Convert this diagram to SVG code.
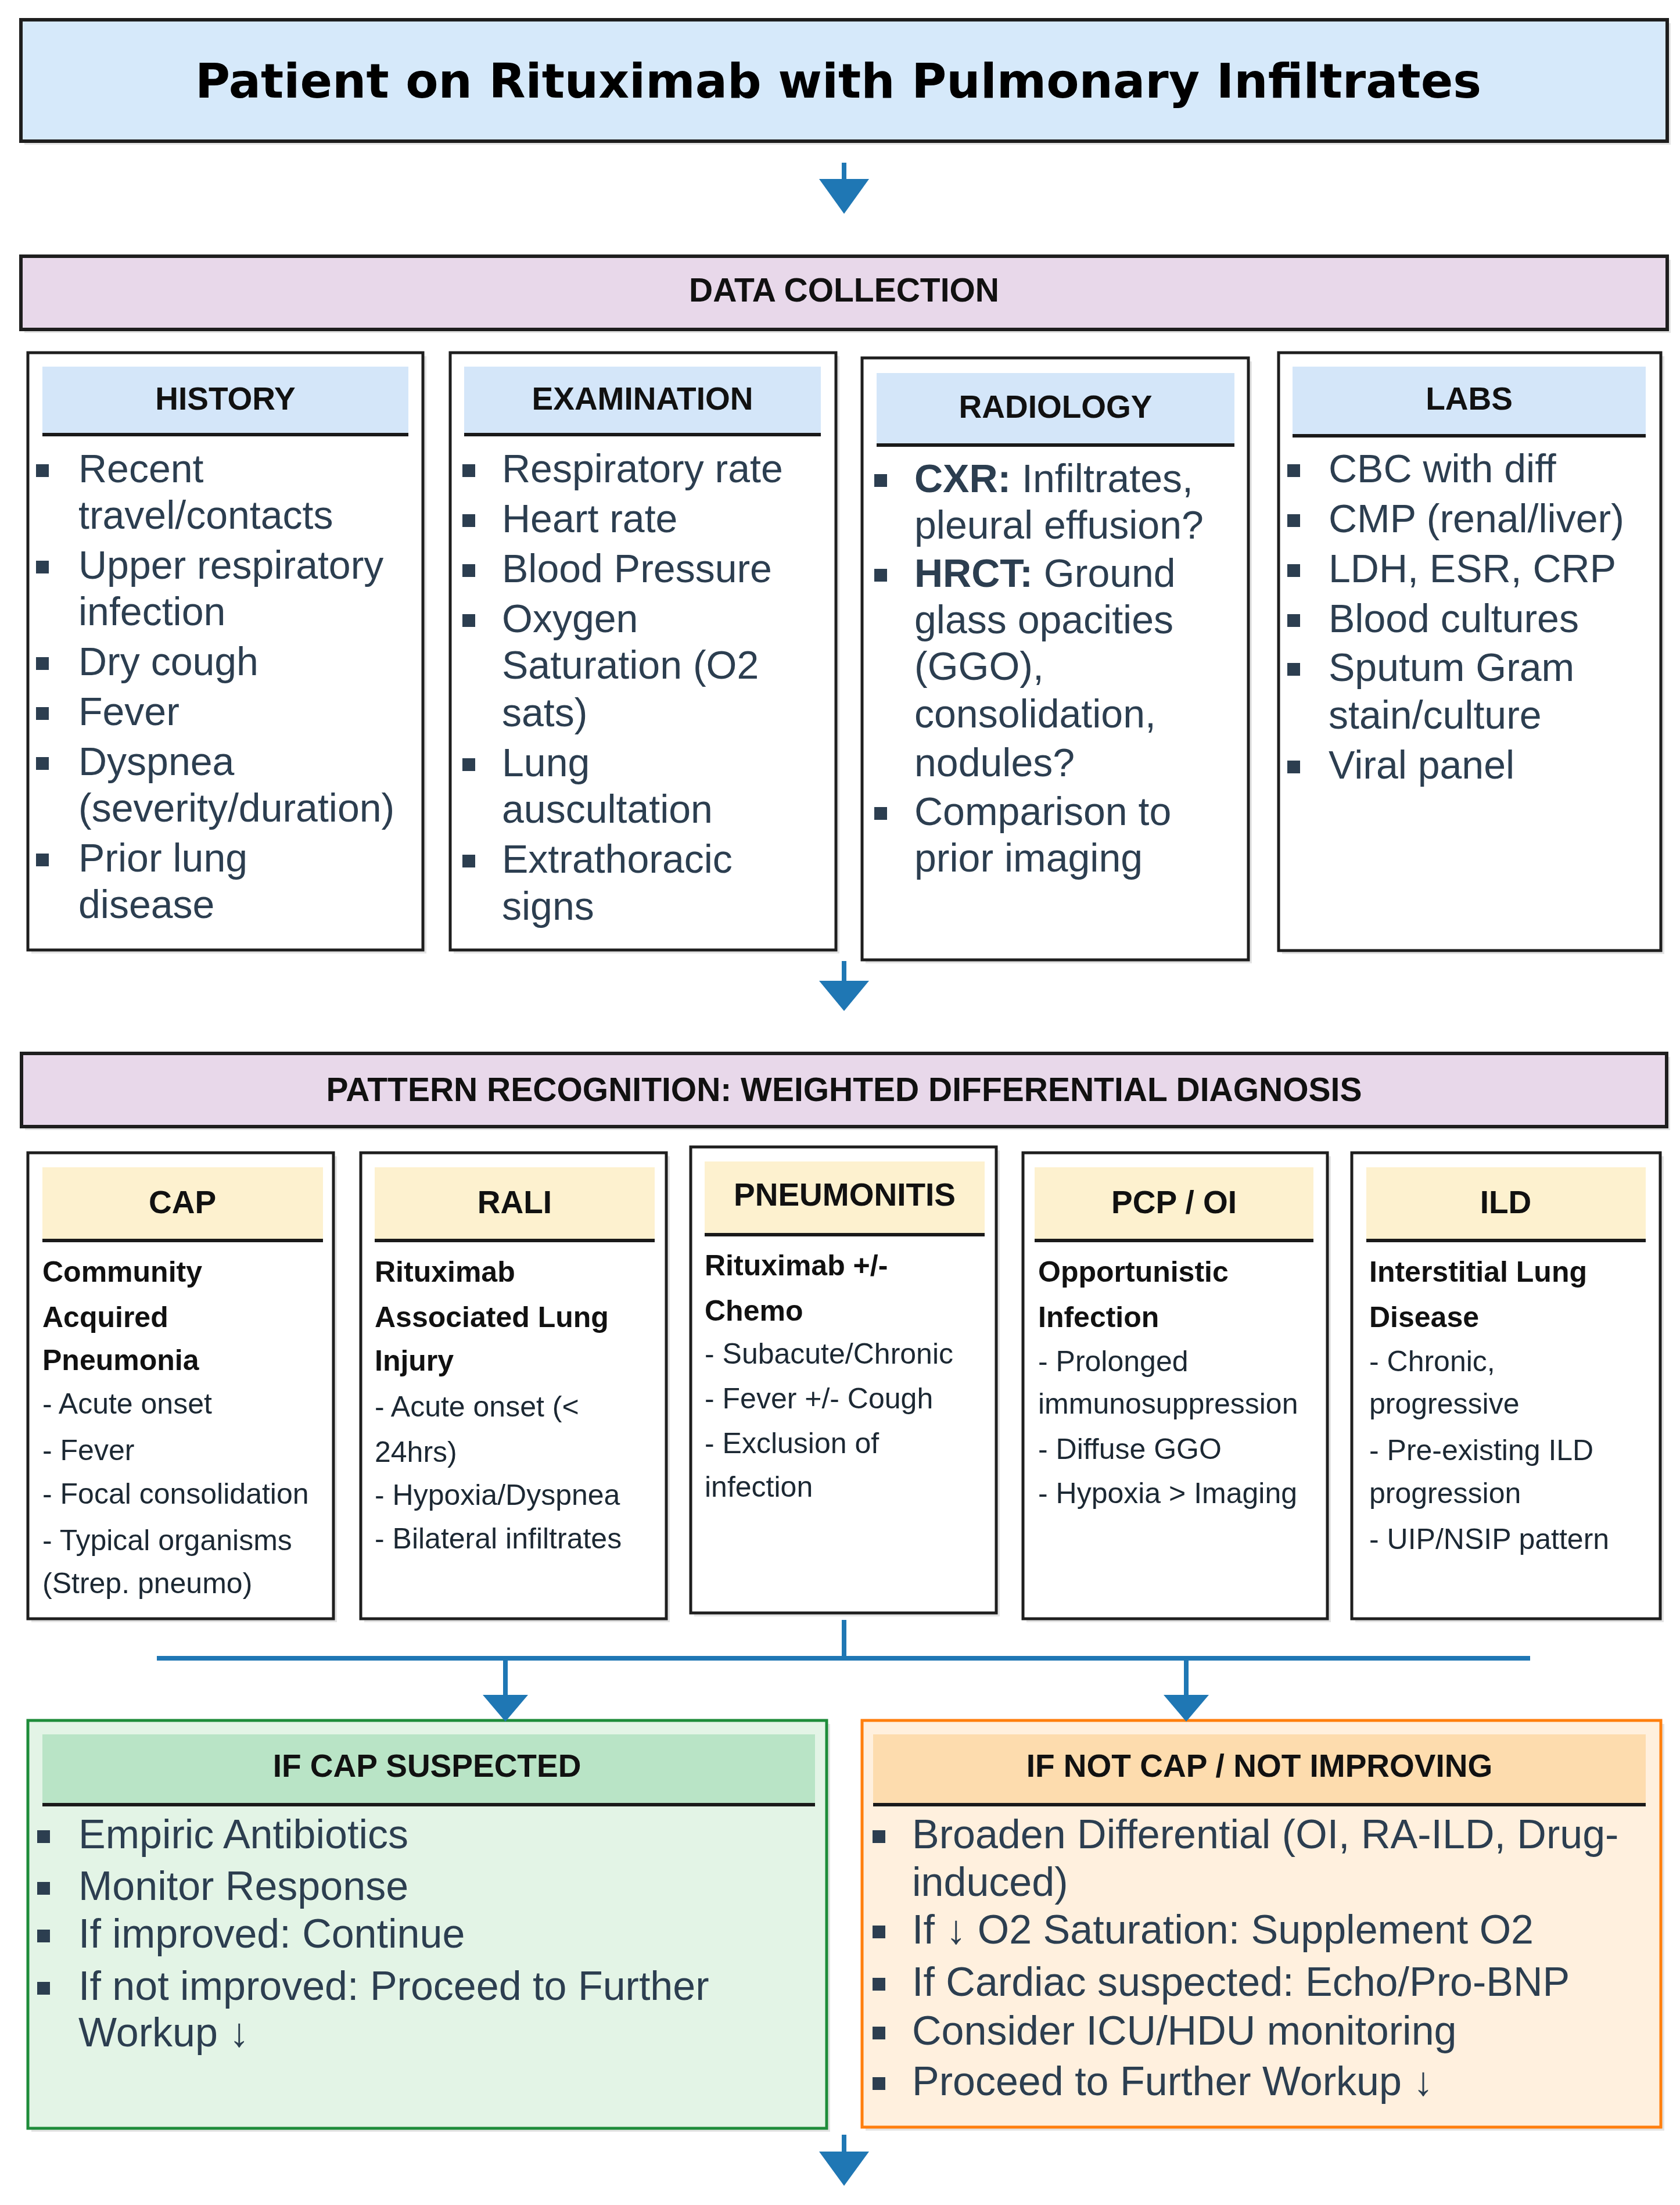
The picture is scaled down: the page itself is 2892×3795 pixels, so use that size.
<svg xmlns="http://www.w3.org/2000/svg" width="2892" height="3795" viewBox="0 0 2892 3795">
<style>
.bg{fill:#ffffff}
.shadow{fill:#e4e4e4}
.box{fill:#ffffff;stroke:#1e1e1e;stroke-width:5}
.title{fill:#d6e9fa;stroke:#1e1e1e;stroke-width:6}
.sec{fill:#e8d8ea;stroke:#1e1e1e;stroke-width:6}
.hb{fill:#d4e6f9}
.hy{fill:#fdf1cf}
.hl{stroke:#1a1a1a;stroke-width:6}
.gbox{fill:#e3f4e6;stroke:#1e8c3a;stroke-width:5}
.gh{fill:#b9e4c6}
.obox{fill:#fff0de;stroke:#ff7f0e;stroke-width:5}
.oh{fill:#fddcae}
.t-title{font-family:"DejaVu Sans",Verdana,sans-serif;font-weight:bold;font-size:82px;fill:#000;text-anchor:middle}
.t-sec{font-family:"Liberation Sans",Arial,sans-serif;font-weight:bold;font-size:57px;fill:#111;text-anchor:middle}
.t-h{font-family:"Liberation Sans",Arial,sans-serif;font-weight:bold;font-size:55px;fill:#111;text-anchor:middle}
.t-b{font-family:"Liberation Sans",Arial,sans-serif;font-size:68px;fill:#2c3e50}
.t-b2{font-family:"Liberation Sans",Arial,sans-serif;font-size:70px;fill:#2c3e50}
.t-p{font-family:"Liberation Sans",Arial,sans-serif;font-size:50px;fill:#1c2833}
.t-pb{font-family:"Liberation Sans",Arial,sans-serif;font-size:50px;font-weight:bold;fill:#111}
.bul{fill:#2c3e50}
.conn{stroke:#1f77b4;stroke-width:8;fill:none}
.ah{fill:#1f77b4}
</style>
<rect class="bg" x="0" y="0" width="2892" height="3795"/>

<g id="title">
<rect class="shadow" x="42" y="40" width="2834" height="209"/>
<rect class="title" x="36" y="34" width="2834" height="209"/>
<text class="t-title" x="1443" y="168">Patient on Rituximab with Pulmonary Infiltrates</text>
</g>

<g id="data-collection">
<rect class="shadow" x="42" y="447" width="2834" height="126"/>
<rect class="sec" x="36" y="441" width="2834" height="126"/>
<text class="t-sec" x="1453" y="519">DATA COLLECTION</text>
</g>

<g id="history">
<rect class="shadow" x="54" y="613" width="680" height="1028"/>
<rect class="box" x="48" y="607" width="680" height="1028"/>
<rect class="hb" x="73" y="631" width="630" height="117"/>
<line class="hl" x1="73" y1="748" x2="703" y2="748"/>
<text class="t-h" x="388" y="705">HISTORY</text>
<rect class="bul" x="62" y="799" width="22" height="22"/>
<text class="t-b" x="135" y="830">Recent</text>
<text class="t-b" x="135" y="910">travel/contacts</text>
<rect class="bul" x="62" y="965" width="22" height="22"/>
<text class="t-b" x="135" y="996">Upper respiratory</text>
<text class="t-b" x="135" y="1076">infection</text>
<rect class="bul" x="62" y="1131" width="22" height="22"/>
<text class="t-b" x="135" y="1162">Dry cough</text>
<rect class="bul" x="62" y="1217" width="22" height="22"/>
<text class="t-b" x="135" y="1248">Fever</text>
<rect class="bul" x="62" y="1303" width="22" height="22"/>
<text class="t-b" x="135" y="1334">Dyspnea</text>
<text class="t-b" x="135" y="1414">(severity/duration)</text>
<rect class="bul" x="62" y="1469" width="22" height="22"/>
<text class="t-b" x="135" y="1500">Prior lung</text>
<text class="t-b" x="135" y="1580">disease</text>
</g>

<g id="examination">
<rect class="shadow" x="781" y="613" width="664" height="1028"/>
<rect class="box" x="775" y="607" width="664" height="1028"/>
<rect class="hb" x="799" y="631" width="614" height="117"/>
<line class="hl" x1="799" y1="748" x2="1413" y2="748"/>
<text class="t-h" x="1106" y="705">EXAMINATION</text>
<rect class="bul" x="796" y="799" width="22" height="22"/>
<text class="t-b" x="864" y="830">Respiratory rate</text>
<rect class="bul" x="796" y="885" width="22" height="22"/>
<text class="t-b" x="864" y="916">Heart rate</text>
<rect class="bul" x="796" y="971" width="22" height="22"/>
<text class="t-b" x="864" y="1002">Blood Pressure</text>
<rect class="bul" x="796" y="1057" width="22" height="22"/>
<text class="t-b" x="864" y="1088">Oxygen</text>
<text class="t-b" x="864" y="1168">Saturation (O2</text>
<text class="t-b" x="864" y="1250">sats)</text>
<rect class="bul" x="796" y="1305" width="22" height="22"/>
<text class="t-b" x="864" y="1336">Lung</text>
<text class="t-b" x="864" y="1416">auscultation</text>
<rect class="bul" x="796" y="1471" width="22" height="22"/>
<text class="t-b" x="864" y="1502">Extrathoracic</text>
<text class="t-b" x="864" y="1583">signs</text>
</g>

<g id="radiology">
<rect class="shadow" x="1490" y="622" width="665" height="1036"/>
<rect class="box" x="1484" y="616" width="665" height="1036"/>
<rect class="hb" x="1509" y="642" width="616" height="124"/>
<line class="hl" x1="1509" y1="766" x2="2125" y2="766"/>
<text class="t-h" x="1817" y="719">RADIOLOGY</text>
<rect class="bul" x="1505" y="816" width="22" height="22"/>
<text class="t-b" x="1574" y="847"><tspan font-weight="bold">CXR:</tspan> Infiltrates,</text>
<text class="t-b" x="1574" y="927">pleural effusion?</text>
<rect class="bul" x="1505" y="979" width="22" height="22"/>
<text class="t-b" x="1574" y="1010"><tspan font-weight="bold">HRCT:</tspan> Ground</text>
<text class="t-b" x="1574" y="1090">glass opacities</text>
<text class="t-b" x="1574" y="1170">(GGO),</text>
<text class="t-b" x="1574" y="1252">consolidation,</text>
<text class="t-b" x="1574" y="1336">nodules?</text>
<rect class="bul" x="1505" y="1389" width="22" height="22"/>
<text class="t-b" x="1574" y="1420">Comparison to</text>
<text class="t-b" x="1574" y="1500">prior imaging</text>
</g>

<g id="labs">
<rect class="shadow" x="2207" y="613" width="658" height="1029"/>
<rect class="box" x="2201" y="607" width="658" height="1029"/>
<rect class="hb" x="2225" y="631" width="608" height="119"/>
<line class="hl" x1="2225" y1="750" x2="2833" y2="750"/>
<text class="t-h" x="2529" y="705">LABS</text>
<rect class="bul" x="2216" y="799" width="22" height="22"/>
<text class="t-b" x="2287" y="830">CBC with diff</text>
<rect class="bul" x="2216" y="885" width="22" height="22"/>
<text class="t-b" x="2287" y="916">CMP (renal/liver)</text>
<rect class="bul" x="2216" y="971" width="22" height="22"/>
<text class="t-b" x="2287" y="1002">LDH, ESR, CRP</text>
<rect class="bul" x="2216" y="1057" width="22" height="22"/>
<text class="t-b" x="2287" y="1088">Blood cultures</text>
<rect class="bul" x="2216" y="1141" width="22" height="22"/>
<text class="t-b" x="2287" y="1172">Sputum Gram</text>
<text class="t-b" x="2287" y="1254">stain/culture</text>
<rect class="bul" x="2216" y="1309" width="22" height="22"/>
<text class="t-b" x="2287" y="1340">Viral panel</text>
</g>

<g id="pattern-recognition">
<rect class="shadow" x="43" y="1819" width="2832" height="126"/>
<rect class="sec" x="37" y="1813" width="2832" height="126"/>
<text class="t-sec" x="1453" y="1895">PATTERN RECOGNITION: WEIGHTED DIFFERENTIAL DIAGNOSIS</text>
</g>

<g id="cap">
<rect class="shadow" x="54" y="1990" width="526" height="802"/>
<rect class="box" x="48" y="1984" width="526" height="802"/>
<rect class="hy" x="73" y="2009" width="483" height="126"/>
<line class="hl" x1="73" y1="2135" x2="556" y2="2135"/>
<text class="t-h" x="314" y="2088">CAP</text>
<text class="t-pb" x="73" y="2206">Community</text>
<text class="t-pb" x="73" y="2284">Acquired</text>
<text class="t-pb" x="73" y="2358">Pneumonia</text>
<text class="t-p" x="73" y="2433">- Acute onset</text>
<text class="t-p" x="73" y="2513">- Fever</text>
<text class="t-p" x="73" y="2588">- Focal consolidation</text>
<text class="t-p" x="73" y="2668">- Typical organisms</text>
<text class="t-p" x="73" y="2742">(Strep. pneumo)</text>
</g>

<g id="rali">
<rect class="shadow" x="627" y="1990" width="526" height="802"/>
<rect class="box" x="621" y="1984" width="526" height="802"/>
<rect class="hy" x="645" y="2009" width="482" height="126"/>
<line class="hl" x1="645" y1="2135" x2="1127" y2="2135"/>
<text class="t-h" x="886" y="2088">RALI</text>
<text class="t-pb" x="645" y="2206">Rituximab</text>
<text class="t-pb" x="645" y="2284">Associated Lung</text>
<text class="t-pb" x="645" y="2359">Injury</text>
<text class="t-p" x="645" y="2438">- Acute onset (&lt;</text>
<text class="t-p" x="645" y="2516">24hrs)</text>
<text class="t-p" x="645" y="2590">- Hypoxia/Dyspnea</text>
<text class="t-p" x="645" y="2665">- Bilateral infiltrates</text>
</g>

<g id="pneumonitis">
<rect class="shadow" x="1195" y="1980" width="526" height="802"/>
<rect class="box" x="1189" y="1974" width="526" height="802"/>
<rect class="hy" x="1213" y="1999" width="482" height="126"/>
<line class="hl" x1="1213" y1="2125" x2="1695" y2="2125"/>
<text class="t-h" x="1454" y="2075">PNEUMONITIS</text>
<text class="t-pb" x="1213" y="2195">Rituximab +/-</text>
<text class="t-pb" x="1213" y="2273">Chemo</text>
<text class="t-p" x="1213" y="2347">- Subacute/Chronic</text>
<text class="t-p" x="1213" y="2424">- Fever +/- Cough</text>
<text class="t-p" x="1213" y="2501">- Exclusion of</text>
<text class="t-p" x="1213" y="2576">infection</text>
</g>

<g id="pcp-oi">
<rect class="shadow" x="1767" y="1990" width="524" height="802"/>
<rect class="box" x="1761" y="1984" width="524" height="802"/>
<rect class="hy" x="1781" y="2009" width="480" height="126"/>
<line class="hl" x1="1781" y1="2135" x2="2261" y2="2135"/>
<text class="t-h" x="2021" y="2088">PCP / OI</text>
<text class="t-pb" x="1787" y="2206">Opportunistic</text>
<text class="t-pb" x="1787" y="2284">Infection</text>
<text class="t-p" x="1787" y="2360">- Prolonged</text>
<text class="t-p" x="1787" y="2433">immunosuppression</text>
<text class="t-p" x="1787" y="2511">- Diffuse GGO</text>
<text class="t-p" x="1787" y="2587">- Hypoxia &gt; Imaging</text>
</g>

<g id="ild">
<rect class="shadow" x="2333" y="1990" width="531" height="802"/>
<rect class="box" x="2327" y="1984" width="531" height="802"/>
<rect class="hy" x="2352" y="2009" width="481" height="126"/>
<line class="hl" x1="2352" y1="2135" x2="2833" y2="2135"/>
<text class="t-h" x="2592" y="2088">ILD</text>
<text class="t-pb" x="2357" y="2206">Interstitial Lung</text>
<text class="t-pb" x="2357" y="2284">Disease</text>
<text class="t-p" x="2357" y="2360">- Chronic,</text>
<text class="t-p" x="2357" y="2433">progressive</text>
<text class="t-p" x="2357" y="2513">- Pre-existing ILD</text>
<text class="t-p" x="2357" y="2587">progression</text>
<text class="t-p" x="2357" y="2666">- UIP/NSIP pattern</text>
</g>

<g id="if-cap-suspected">
<rect class="shadow" x="54" y="2967" width="1375" height="702"/>
<rect class="gbox" x="48" y="2961" width="1375" height="702"/>
<rect class="gh" x="73" y="2985" width="1330" height="121"/>
<line class="hl" x1="73" y1="3106" x2="1403" y2="3106"/>
<text class="t-h" x="735" y="3058">IF CAP SUSPECTED</text>
<rect class="bul" x="64" y="3150" width="22" height="22"/>
<text class="t-b2" x="135" y="3181">Empiric Antibiotics</text>
<rect class="bul" x="64" y="3239" width="22" height="22"/>
<text class="t-b2" x="135" y="3270">Monitor Response</text>
<rect class="bul" x="64" y="3321" width="22" height="22"/>
<text class="t-b2" x="135" y="3352">If improved: Continue</text>
<rect class="bul" x="64" y="3411" width="22" height="22"/>
<text class="t-b2" x="135" y="3442">If not improved: Proceed to Further</text>
<text class="t-b2" x="135" y="3522">Workup ↓</text>
</g>

<g id="if-not-cap">
<rect class="shadow" x="1490" y="2967" width="1375" height="700"/>
<rect class="obox" x="1484" y="2961" width="1375" height="700"/>
<rect class="oh" x="1503" y="2985" width="1330" height="121"/>
<line class="hl" x1="1503" y1="3106" x2="2833" y2="3106"/>
<text class="t-h" x="2168" y="3058">IF NOT CAP / NOT IMPROVING</text>
<rect class="bul" x="1502" y="3150" width="22" height="22"/>
<text class="t-b2" x="1570" y="3181">Broaden Differential (OI, RA-ILD, Drug-</text>
<text class="t-b2" x="1570" y="3263">induced)</text>
<rect class="bul" x="1502" y="3314" width="22" height="22"/>
<text class="t-b2" x="1570" y="3345">If ↓ O2 Saturation: Supplement O2</text>
<rect class="bul" x="1502" y="3404" width="22" height="22"/>
<text class="t-b2" x="1570" y="3435">If Cardiac suspected: Echo/Pro-BNP</text>
<rect class="bul" x="1502" y="3488" width="22" height="22"/>
<text class="t-b2" x="1570" y="3519">Consider ICU/HDU monitoring</text>
<rect class="bul" x="1502" y="3575" width="22" height="22"/>
<text class="t-b2" x="1570" y="3606">Proceed to Further Workup ↓</text>
</g>

<g id="connectors">
<line class="conn" x1="1453" y1="280" x2="1453" y2="312"/>
<polygon class="ah" points="1410,308 1496,308 1453,368"/>
<line class="conn" x1="1453" y1="1654" x2="1453" y2="1692"/>
<polygon class="ah" points="1410,1688 1496,1688 1453,1740"/>
<line class="conn" x1="1453" y1="2788" x2="1453" y2="2854"/>
<line class="conn" x1="270" y1="2854" x2="2634" y2="2854"/>
<line class="conn" x1="870" y1="2854" x2="870" y2="2920"/>
<polygon class="ah" points="831,2917 909,2917 870,2963"/>
<line class="conn" x1="2042" y1="2854" x2="2042" y2="2920"/>
<polygon class="ah" points="2003,2917 2081,2917 2042,2963"/>
<line class="conn" x1="1453" y1="3674" x2="1453" y2="3706"/>
<polygon class="ah" points="1410,3703 1496,3703 1453,3762"/>
</g>
</svg>
